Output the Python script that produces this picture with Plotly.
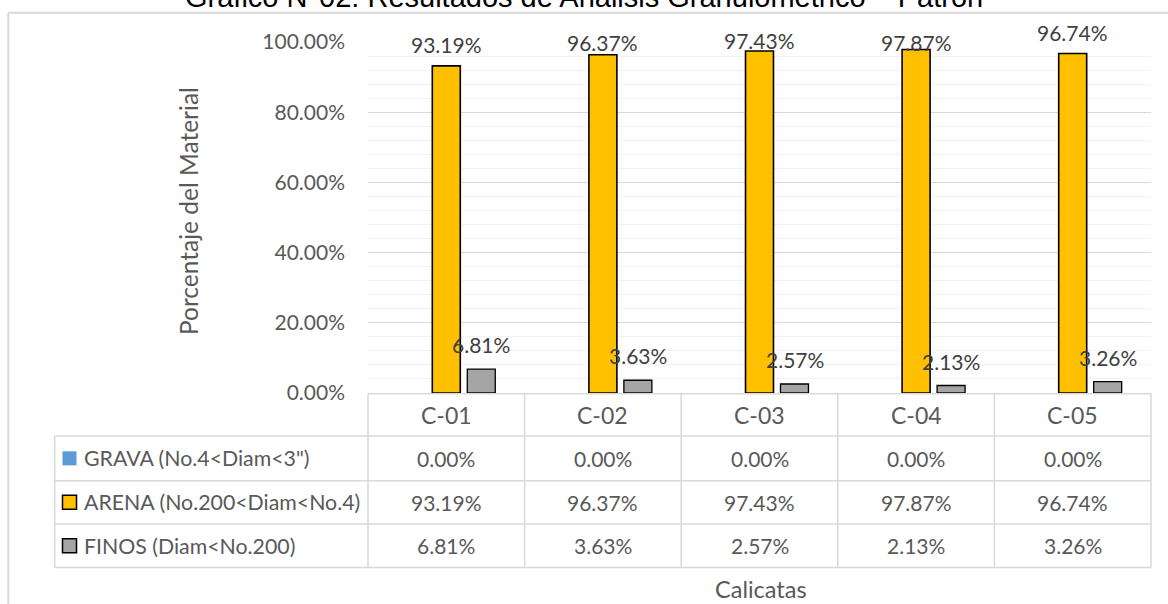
import plotly.graph_objects as go

# ---- data -------------------------------------------------------------
calicatas = ["C-01", "C-02", "C-03", "C-04", "C-05"]
series_names = ['GRAVA (No.4<Diam<3")', "ARENA (No.200<Diam<No.4)", "FINOS (Diam<No.200)"]
grava = [0.00, 0.00, 0.00, 0.00, 0.00]
arena = [93.19, 96.37, 97.43, 97.87, 96.74]
finos = [6.81, 3.63, 2.57, 2.13, 3.26]
y_ticks = [0, 20, 40, 60, 80, 100]

title_text = "Gráfico N°02: Resultados de Análisis Granulométrico – Patrón"
y_title = "Porcentaje del Material"
x_title = "Calicatas"

# ---- styling ----------------------------------------------------------
W, H = 1168, 604
L, R, T, B = 368, 1151, 42, 393          # plot area in pixels
FONT = "Lato"
TXT = "#595959"
LBL = "#404040"
GRID = "#d9d9d9"
colors = ["#5B9BD5", "#FFC000", "#A5A5A5"]
fs = 21


def px(x):
    return (x - L) / (R - L)


def py(y):
    return (B - y) / (B - T)


def esc(s):
    return s.replace("<", "&lt;").replace(">", "&gt;")


def pct(v):
    return f"{v:.2f}%"


fig = go.Figure()
values = [grava, arena, finos]
line_w = [0, 1.6, 1.3]
for name, vals, col, lw in zip(series_names, values, colors, line_w):
    fig.add_trace(go.Bar(
        x=calicatas, y=vals, name=name,
        marker=dict(color=col, line=dict(color="#000000", width=lw)),
        showlegend=False, hoverinfo="skip",
    ))

annotations = []
shapes = []

# data labels above the bars
arena_lift = [21, 12, 11, 7, 20.5]
for i, v in enumerate(arena):
    annotations.append(dict(x=calicatas[i], y=v, xref="x", yref="y",
                            text=pct(v), showarrow=False,
                            yanchor="middle", yshift=arena_lift[i],
                            font=dict(family=FONT, size=fs, color=LBL)))
for i, v in enumerate(finos):
    annotations.append(dict(x=calicatas[i], y=v, xref="x", yref="y",
                            text=pct(v), showarrow=False,
                            yanchor="middle", yshift=24.5, xshift=35,
                            font=dict(family=FONT, size=fs, color=LBL)))

# chart title (runs off the top edge)
annotations.append(dict(x=px(584), y=py(15), xref="paper", yref="paper",
                        text=title_text, showarrow=False,
                        xanchor="center", yanchor="bottom",
                        font=dict(family="Liberation Sans", size=29, color="#000000")))

# axis titles
annotations.append(dict(x=px(188), y=py(211), xref="paper", yref="paper",
                        text=y_title, showarrow=False, textangle=-90,
                        xanchor="center", yanchor="middle",
                        font=dict(family=FONT, size=24.5, color=TXT)))
annotations.append(dict(x=px(761), y=py(589), xref="paper", yref="paper",
                        text=x_title, showarrow=False,
                        xanchor="center", yanchor="middle",
                        font=dict(family=FONT, size=23.5, color=TXT)))

# ---- data table under the plot ---------------------------------------
row_lines = [393.8, 436, 480.7, 524, 567.6]
leg_left = 54.7
n = len(calicatas)
col_edges = [k / n for k in range(n + 1)]


def hline(y, x0, x1, color=GRID, w=1.5):
    shapes.append(dict(type="line", xref="paper", yref="paper",
                       x0=x0, x1=x1, y0=py(y), y1=py(y),
                       line=dict(color=color, width=w)))


def vline(x, y0, y1, color=GRID, w=1.5):
    shapes.append(dict(type="line", xref="paper", yref="paper",
                       x0=x, x1=x, y0=py(y0), y1=py(y1),
                       line=dict(color=color, width=w)))


hline(row_lines[0], 0, 1)
for y in row_lines[1:]:
    hline(y, px(leg_left), 1)
vline(px(leg_left), row_lines[1], row_lines[-1])
for xe in col_edges:
    vline(xe, row_lines[0], row_lines[-1])

# header row with the category names
for i, c in enumerate(calicatas):
    annotations.append(dict(x=c, xref="x", y=py((row_lines[0] + row_lines[1]) / 2), yref="paper",
                            text=c, showarrow=False, yanchor="middle",
                            font=dict(family=FONT, size=23, color=TXT)))

# one row per series: legend key, name and values
for r, (name, vals, col) in enumerate(zip(series_names, values, colors)):
    yc = (row_lines[r + 1] + row_lines[r + 2]) / 2
    key = dict(type="rect", xref="paper", yref="paper",
               x0=px(62.5), x1=px(76.5), y0=py(yc - 7), y1=py(yc + 7),
               fillcolor=col,
               line=dict(color="#000000" if r > 0 else col, width=1.5 if r > 0 else 0))
    shapes.append(key)
    annotations.append(dict(x=px(81.5), y=py(yc), xref="paper", yref="paper",
                            text=esc(name), showarrow=False,
                            xanchor="left", yanchor="middle",
                            font=dict(family=FONT, size=21.3, color=TXT)))
    for i, v in enumerate(vals):
        annotations.append(dict(x=calicatas[i], xref="x", y=py(yc), yref="paper",
                                text=pct(v), showarrow=False, yanchor="middle",
                                font=dict(family=FONT, size=fs, color=TXT)))

# outer chart frame (top and left edges)
hline(12.7, px(8.3), px(W + 2), color="#d9d9d9", w=2)
vline(px(8.3), 12.7, H + 2, color="#d9d9d9", w=2)

fig.update_layout(
    width=W, height=H,
    margin=dict(l=L, r=W - R, t=T, b=H - B, pad=0),
    paper_bgcolor="white", plot_bgcolor="white",
    barmode="group", bargap=0.33, bargroupgap=0.2,
    annotations=annotations, shapes=shapes,
    xaxis=dict(showticklabels=False, showgrid=False, zeroline=False,
               showline=False, ticks=""),
    yaxis=dict(range=[0, 100], tickmode="array", tickvals=y_ticks,
               ticktext=[pct(t) for t in y_ticks],
               showgrid=True, gridcolor=GRID, gridwidth=1.3,
               minor=dict(dtick=4, showgrid=True, gridcolor="#f2f2f2", gridwidth=1.3),
               zeroline=False, showline=False, ticks="",
               ticklabelstandoff=22,
               tickfont=dict(family=FONT, size=fs, color=TXT)),
    font=dict(family=FONT, size=fs, color=TXT),
)

fig.write_html("out.html")
